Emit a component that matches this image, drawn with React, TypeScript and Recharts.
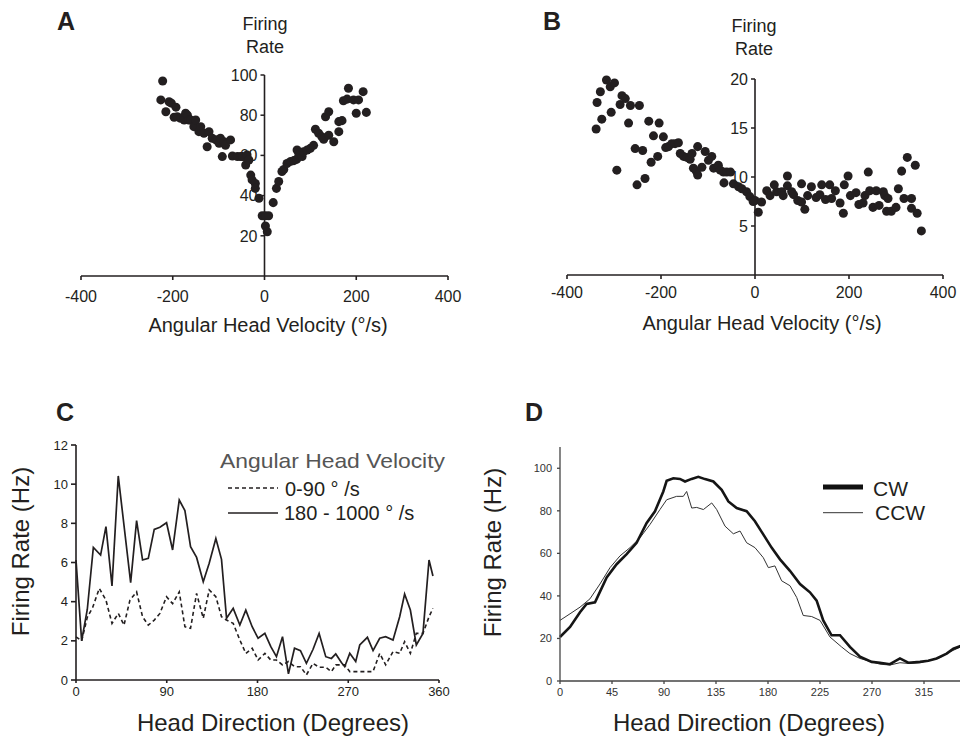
import React from "react";
import {
  ScatterChart,
  Scatter,
  LineChart,
  Line,
  XAxis,
  YAxis,
  ZAxis,
  ReferenceLine,
  ReferenceDot,
  Legend,
} from "recharts";

const FONT = '"Liberation Sans", Arial, Helvetica, sans-serif';
const INK = "#231f20";

// Panel A: angular head velocity (deg/s) vs firing rate
const A_NEG = [
  [-222, 97], [-226, 87.6], [-215, 81.7], [-208, 86.7], [-203, 86], [-197, 79], [-193, 84],
  [-190, 79.2], [-183, 78.5], [-175, 79], [-175, 77.6], [-172, 81], [-168, 80], [-165, 77.6],
  [-161, 77.6], [-154, 74.3], [-150, 77.6], [-143, 71.8], [-139, 74.3], [-132, 71], [-125, 64.3],
  [-121, 71.8], [-114, 68.5], [-106, 67.7], [-103, 67.7], [-99, 66], [-96, 68.5], [-92, 59.4],
  [-88, 66.8], [-85, 65], [-74, 67.7], [-70, 59.7], [-59, 59.4], [-52, 59.4], [-48, 59.4],
  [-41, 55.2], [-38, 60.2], [-34, 57.7], [-30, 50.2], [-27, 47.8], [-20, 46], [-20, 43.6],
  [-12, 38.7], [-5, 30],
];
const A_POS = [
  [2, 30], [9, 30], [2, 24.9], [6, 22], [19, 36.5], [26, 43.6], [31, 47], [38, 52], [42, 53],
  [49, 56], [57, 57], [64, 57.4], [70, 58], [71, 62.7], [75, 60.2], [82, 59.4], [85, 61.8],
  [93, 62.7], [100, 63.5], [107, 65], [111, 73], [118, 71], [125, 69.3], [129, 68], [133, 79.2],
  [140, 70], [140, 81.7], [151, 66.8], [162, 71.8], [162, 76.8], [169, 77.3], [172, 87.2],
  [180, 88], [183, 93.4], [194, 87.6], [200, 81], [205, 87.6], [215, 91.7], [222, 81.4],
];
const A_XTICKS = [-400, -200, 0, 200, 400];
const A_YTICKS = [20, 40, 60, 80, 100];

// Panel B
const B_NEG = [
  [-338, 14.9], [-336, 17.6], [-329, 18.7], [-326, 15.9], [-316, 19.9], [-308, 19.2], [-306, 16.6],
  [-299, 19.6], [-294, 10.7], [-287, 17.4], [-283, 18.3], [-276, 18.0], [-269, 15.5], [-265, 17.3],
  [-255, 12.9], [-251, 9.2], [-246, 17.3], [-239, 12.7], [-234, 9.85], [-226, 15.7], [-221, 11.5],
  [-216, 14.2], [-207, 12.1], [-204, 15.5], [-195, 14.1], [-190, 13.0], [-184, 13.1], [-177, 13.4],
  [-170, 13.4], [-163, 13.5], [-159, 12.4], [-152, 12.1], [-145, 12.0], [-138, 11.8], [-134, 12.4],
  [-131, 10.9], [-125, 10.6], [-122, 13.1], [-122, 10.2], [-113, 11.0], [-106, 12.6], [-99, 11.7],
  [-92, 12.1], [-88, 10.9], [-78, 11.2], [-74, 10.7], [-67, 10.5], [-66, 9.4], [-60, 10.5],
  [-52, 10.5], [-46, 9.3], [-35, 9.0], [-28, 8.8], [-18, 8.5], [-11, 8.0], [-4, 7.5],
];
const B_POS = [
  [0, 7.6], [7, 6.4], [14, 7.45], [25, 8.6], [32, 8.1], [41, 9.2], [46, 8.5], [57, 8.5], [60, 8.1],
  [69, 10.1], [69, 9.1], [78, 8.5], [82, 8.2], [91, 7.6], [99, 9.3], [99, 7.45], [106, 6.7],
  [112, 8.1], [120, 9.0], [130, 7.9], [138, 8.2], [142, 9.2], [150, 7.7], [159, 9.2], [163, 7.8],
  [171, 8.6], [181, 7.35], [188, 6.3], [190, 9.2], [198, 10.1], [203, 8.1], [215, 8.4], [221, 7.2],
  [230, 7.35], [234, 8.1], [241, 10.5], [244, 8.6], [251, 6.9], [258, 8.6], [264, 7.1], [273, 8.5],
  [276, 8.1], [280, 6.5], [283, 7.8], [290, 6.5], [300, 6.9], [305, 8.8], [312, 10.6], [317, 7.8],
  [324, 12.0], [333, 7.8], [333, 6.8], [341, 11.2], [345, 6.3], [354, 4.5],
];
const B_YTICKS = [5, 10, 15, 20];

// Panel C: head direction (deg) vs firing rate (Hz), two AHV bands
const C_SLOW = [
  [0, 2.2], [5.6, 2.0], [11.2, 3.2], [16.5, 3.7], [23.1, 4.68], [29.7, 4.08], [35.7, 2.89],
  [42, 3.4], [47.6, 2.8], [53.5, 4.08], [60.1, 4.5], [66, 3.23], [71.7, 2.8], [77.6, 3.06],
  [83.2, 3.4], [89.8, 4.25], [95.8, 3.9], [102.4, 4.5], [108, 2.72], [113.6, 2.64], [119.6, 4.42],
  [126.2, 3.15], [132.1, 4.6], [138.7, 4.25], [144.3, 3.23], [149.3, 3.06], [155.9, 2.89],
  [162.5, 2.04], [168.4, 1.36], [174.7, 1.62], [180.6, 1.02], [187.3, 1.36], [193.2, 1.02],
  [198.8, 1.02], [204.8, 0.77], [210.7, 0.94], [216.7, 0.68], [222.6, 0.68], [228.5, 0.26],
  [235.1, 0.85], [241.1, 0.65], [247.7, 0.65], [253.3, 0.43], [257.6, 0.77], [263.2, 0.77],
  [266.5, 0.77], [271.5, 0.43], [277.4, 0.43], [281.4, 0.43], [289, 0.43], [294.6, 0.43],
  [301.2, 1.36], [307.1, 0.77], [314.4, 1.45], [321, 1.36], [325.9, 1.96], [331.6, 1.36],
  [337.5, 2.38], [344.1, 2.38], [350.1, 3.23], [354, 3.66],
];
const C_FAST = [
  [0, 6.13], [5.6, 2.0], [11.2, 3.6], [17.2, 6.77], [24.4, 6.38], [29.7, 7.83], [35.7, 4.8],
  [41.9, 10.42], [54.2, 4.97], [60.1, 8.14], [66, 6.13], [71.7, 6.21], [77.6, 7.69], [83.2, 7.8],
  [89.8, 8.03], [95.8, 6.64], [102.4, 9.19], [108, 8.65], [113.6, 6.81], [119.6, 6.26],
  [126.2, 5.02], [132.1, 5.96], [138.7, 7.23], [144.3, 6.16], [149.3, 3.15], [155.9, 3.66],
  [162.5, 2.81], [168.4, 3.57], [174.7, 2.72], [180.6, 2.13], [187.3, 2.38], [193.2, 1.7],
  [198.8, 1.19], [204.8, 2.21], [210.7, 0.31], [216.7, 1.62], [222.6, 1.5], [228.5, 0.85],
  [235.1, 1.57], [241.1, 2.38], [247.7, 1.19], [253.3, 1.1], [257.6, 1.33], [263.2, 0.89],
  [266.5, 0.68], [271.5, 1.36], [277.4, 0.94], [281.4, 1.79], [289, 2.18], [294.6, 1.5],
  [301.2, 2.13], [307.1, 2.21], [314.4, 2.04], [321, 3.23], [325.9, 4.39], [331.6, 3.57],
  [337.5, 1.79], [344.1, 2.38], [350.1, 6.13], [354, 5.31],
];
const C_XTICKS = [0, 90, 180, 270, 360];
const C_YTICKS = [0, 2, 4, 6, 8, 10, 12];

// Panel D: clockwise vs counter-clockwise turns
const D_CW = [
  [0, 20.7], [8.7, 25.4], [17.3, 32.3], [23, 36.2], [30.3, 37], [40.4, 48.7], [49, 54.9],
  [57.7, 59.6], [66.3, 65], [75, 74.3], [82.2, 79.8], [89.4, 89.1], [92.3, 94.1], [98.1, 95.3],
  [103.8, 95], [108.2, 93.8], [113.9, 95], [119.7, 96], [125.5, 94.9], [132.7, 93.8],
  [139.9, 89.9], [145.7, 84.4], [152.9, 81.3], [161.5, 79.8], [168.7, 75.1], [175.9, 68.9],
  [183.1, 62.7], [190.4, 57.2], [199, 51.8], [207.7, 45.6], [216.3, 41.7], [222.1, 37.8],
  [227.8, 28.5], [235, 21.5], [242.3, 21.5], [250.9, 16], [259.6, 11.4], [269.7, 9],
  [276.9, 8.6], [285.5, 7.9], [294.2, 10.6], [301.4, 8.6], [311.5, 9], [318.7, 9.5],
  [325.9, 10.6], [334.6, 12.9], [340.4, 15.2], [346.1, 16.3], [352, 18],
];
const D_CCW = [
  [0, 28.5], [8.7, 31.6], [17.3, 34.7], [25.9, 38.6], [34.6, 45.6], [43.3, 53.3], [51.9, 58.8],
  [60.6, 62.7], [69.2, 67.3], [77.9, 73.6], [86.5, 80.6], [92.3, 85.2], [100.9, 86.8],
  [106.7, 86.8], [109.6, 89.1], [114, 81.3], [118.3, 81.6], [124.1, 80.6], [131.3, 83.7],
  [135.6, 80.6], [142.8, 72.8], [150, 69.2], [155.8, 70.5], [161.5, 65], [168.7, 62.7],
  [175.9, 58], [180.3, 53.3], [186, 54.1], [191.8, 47.1], [199, 44.8], [204.8, 39.3],
  [210.5, 30.8], [217.8, 30.3], [225, 28.5], [233.6, 20.7], [243.7, 16], [250.9, 12.9],
  [259.6, 10.6], [269.7, 9], [276.9, 7.9], [285.5, 7.5], [294.2, 8.6], [302.8, 8.2],
  [311.5, 8.6], [320.2, 9.8], [328.8, 11], [337.5, 13.7], [346.1, 15.9], [352, 17.5],
];
const D_XTICKS = [0, 45, 90, 135, 180, 225, 270, 315];
const D_YTICKS = [0, 20, 40, 60, 80, 100];

const toXY = (pts: number[][]) => pts.map(([x, y]) => ({ x, y }));

// y-axis crossing at x = 0: tick + label drawn at the scaled point
const yTickAt = (value: number) => (p: any) => (
  <g>
    <line x1={p.cx - 4} x2={p.cx} y1={p.cy} y2={p.cy} stroke={INK} strokeWidth={1.5} />
    <text
      x={p.cx - 7}
      y={p.cy}
      dy="0.36em"
      textAnchor="end"
      fontSize={16}
      fontFamily={FONT}
      fill={INK}
    >
      {value}
    </text>
  </g>
);

const CLegend = () => (
  <svg width={250} height={90} style={{ display: "block" }}>
    <text
      x={5}
      y={22.5}
      fontSize={21}
      fontFamily={FONT}
      fill="#555"
      textLength={225}
      lengthAdjust="spacingAndGlyphs"
    >
      Angular Head Velocity
    </text>
    <line x1={13} x2={63} y1={43} y2={43} stroke={INK} strokeWidth={1.6} strokeDasharray="4 3" />
    <text x={70} y={51} fontSize={20} fontFamily={FONT} fill={INK}>
      0-90 ° /s
    </text>
    <line x1={13} x2={63} y1={68} y2={68} stroke={INK} strokeWidth={1.6} />
    <text x={69} y={74.5} fontSize={20} fontFamily={FONT} fill={INK}>
      180 - 1000 ° /s
    </text>
  </svg>
);

const DLegend = () => (
  <svg width={120} height={60} style={{ display: "block" }}>
    <line x1={8} x2={48} y1={17} y2={17} stroke="#111" strokeWidth={5} />
    <text x={58} y={25.7} fontSize={21} fontFamily={FONT} fill={INK}>
      CW
    </text>
    <line x1={8} x2={48} y1={42.7} y2={42.7} stroke="#333" strokeWidth={1} />
    <text x={60} y={50} fontSize={21} fontFamily={FONT} fill={INK}>
      CCW
    </text>
  </svg>
);

const axisStroke = { stroke: INK, strokeWidth: 1.6 };

export default function App() {
  const aNeg = toXY(A_NEG);
  const aPos = toXY(A_POS);
  const bNeg = toXY(B_NEG);
  const bPos = toXY(B_POS);

  return (
    <div
      style={{
        position: "absolute",
        left: 0,
        top: 0,
        width: 960,
        height: 738,
        overflow: "hidden",
        background: "#fff",
        fontFamily: FONT,
      }}
    >
      {/* A */}
      <div style={{ position: "absolute", left: 0, top: 0 }}>
        <ScatterChart width={480} height={340} margin={{ top: 75, right: 32, bottom: 34, left: 81 }}>
          <XAxis
            type="number"
            dataKey="x"
            domain={[-400, 400]}
            ticks={A_XTICKS}
            interval={0}
            height={30}
            axisLine={axisStroke}
            tickLine={axisStroke}
            tickSize={4}
            tickMargin={11}
            tick={{ fill: INK, fontSize: 16, fontFamily: FONT }}
          />
          <YAxis type="number" dataKey="y" domain={[0, 100]} hide />
          <ZAxis range={[68, 68]} />
          <ReferenceLine x={0} stroke={INK} strokeWidth={1.6} />
          {A_YTICKS.map((v) => (
            <ReferenceDot key={v} x={0} y={v} r={0} shape={yTickAt(v)} />
          ))}
          <Scatter data={aNeg} fill={INK} isAnimationActive={false} />
          <Scatter data={aPos} fill={INK} isAnimationActive={false} />
        </ScatterChart>
      </div>

      {/* B */}
      <div style={{ position: "absolute", left: 480, top: 0 }}>
        <ScatterChart width={480} height={340} margin={{ top: 79, right: 17, bottom: 35, left: 87 }}>
          <XAxis
            type="number"
            dataKey="x"
            domain={[-400, 400]}
            ticks={A_XTICKS}
            interval={0}
            height={30}
            axisLine={axisStroke}
            tickLine={axisStroke}
            tickSize={4}
            tickMargin={8}
            tick={{ fill: INK, fontSize: 16, fontFamily: FONT }}
          />
          <YAxis type="number" dataKey="y" domain={[0, 20]} hide />
          <ZAxis range={[68, 68]} />
          <ReferenceLine x={0} stroke={INK} strokeWidth={1.6} />
          {B_YTICKS.map((v) => (
            <ReferenceDot key={v} x={0} y={v} r={0} shape={yTickAt(v)} />
          ))}
          <Scatter data={bNeg} fill={INK} isAnimationActive={false} />
          <Scatter data={bPos} fill={INK} isAnimationActive={false} />
        </ScatterChart>
      </div>

      {/* C */}
      <div style={{ position: "absolute", left: 0, top: 390 }}>
        <LineChart width={480} height={348} margin={{ top: 55, right: 41, bottom: 33, left: 36 }}>
          <XAxis
            type="number"
            dataKey="x"
            domain={[0, 360]}
            ticks={C_XTICKS}
            interval={0}
            height={25}
            axisLine={axisStroke}
            tickLine={axisStroke}
            tickSize={3}
            tickMargin={4}
            tick={{ fill: INK, fontSize: 13, fontFamily: FONT }}
          />
          <YAxis
            type="number"
            domain={[0, 12]}
            ticks={C_YTICKS}
            interval={0}
            width={40}
            axisLine={axisStroke}
            tickLine={axisStroke}
            tickSize={5}
            tickMargin={3}
            tick={{ fill: INK, fontSize: 13, fontFamily: FONT }}
          />
          <Legend
            layout="horizontal"
            verticalAlign="middle"
            align="center"
            wrapperStyle={{ left: 215, top: 55, width: 250 }}
            content={() => <CLegend />}
          />
          <Line
            data={toXY(C_SLOW)}
            dataKey="y"
            type="linear"
            stroke={INK}
            strokeWidth={1.6}
            strokeDasharray="4 3"
            dot={false}
            isAnimationActive={false}
          />
          <Line
            data={toXY(C_FAST)}
            dataKey="y"
            type="linear"
            stroke={INK}
            strokeWidth={1.7}
            dot={false}
            isAnimationActive={false}
          />
        </LineChart>
      </div>

      {/* D */}
      <div style={{ position: "absolute", left: 480, top: 390 }}>
        <LineChart width={500} height={348} margin={{ top: 57, right: 4, bottom: 32, left: 50 }}>
          <XAxis
            type="number"
            dataKey="x"
            domain={[0, 360]}
            ticks={D_XTICKS}
            interval={0}
            height={25}
            axisLine={{ stroke: "#444", strokeWidth: 1.3 }}
            tickLine={{ stroke: "#444", strokeWidth: 1.3 }}
            tickSize={3}
            tickMargin={4}
            tick={{ fill: "#333", fontSize: 11, fontFamily: FONT }}
          />
          <YAxis
            type="number"
            domain={[0, 110]}
            ticks={D_YTICKS}
            interval={0}
            width={30}
            axisLine={{ stroke: "#444", strokeWidth: 1.3 }}
            tickLine={{ stroke: "#444", strokeWidth: 1.3 }}
            tickSize={3}
            tickMargin={5}
            tick={{ fill: "#333", fontSize: 11, fontFamily: FONT }}
          />
          <Legend
            layout="horizontal"
            verticalAlign="middle"
            align="center"
            wrapperStyle={{ left: 335, top: 80, width: 120 }}
            content={() => <DLegend />}
          />
          <Line
            data={toXY(D_CCW)}
            dataKey="y"
            type="linear"
            stroke="#333"
            strokeWidth={1}
            dot={false}
            isAnimationActive={false}
          />
          <Line
            data={toXY(D_CW)}
            dataKey="y"
            type="linear"
            stroke="#151515"
            strokeWidth={2.6}
            dot={false}
            isAnimationActive={false}
          />
        </LineChart>
      </div>

      {/* panel letters and axis titles */}
      <svg
        width={960}
        height={738}
        style={{ position: "absolute", left: 0, top: 0, pointerEvents: "none" }}
        fontFamily={FONT}
        fill={INK}
      >
        <text x={57} y={30} fontSize={25} fontWeight="bold">A</text>
        <text x={543} y={30} fontSize={25} fontWeight="bold">B</text>
        <text x={56} y={421} fontSize={25} fontWeight="bold">C</text>
        <text x={525} y={421} fontSize={25} fontWeight="bold">D</text>

        <text x={265} y={29.5} fontSize={18} textAnchor="middle">Firing</text>
        <text x={265} y={52.5} fontSize={18} textAnchor="middle">Rate</text>
        <text x={754} y={32} fontSize={18} textAnchor="middle">Firing</text>
        <text x={754} y={55} fontSize={18} textAnchor="middle">Rate</text>

        <text x={268} y={331.5} fontSize={20} textAnchor="middle">Angular Head Velocity (°/s)</text>
        <text x={762} y={329.5} fontSize={20} textAnchor="middle">Angular Head Velocity (°/s)</text>

        <text transform="translate(29,551.5) rotate(-90)" fontSize={24} textAnchor="middle">
          Firing Rate (Hz)
        </text>
        <text transform="translate(501,552.5) rotate(-90)" fontSize={24} textAnchor="middle">
          Firing Rate (Hz)
        </text>
        <text x={273} y={731} fontSize={24} textAnchor="middle">Head Direction (Degrees)</text>
        <text x={749} y={731} fontSize={24} textAnchor="middle">Head Direction (Degrees)</text>
      </svg>
    </div>
  );
}
